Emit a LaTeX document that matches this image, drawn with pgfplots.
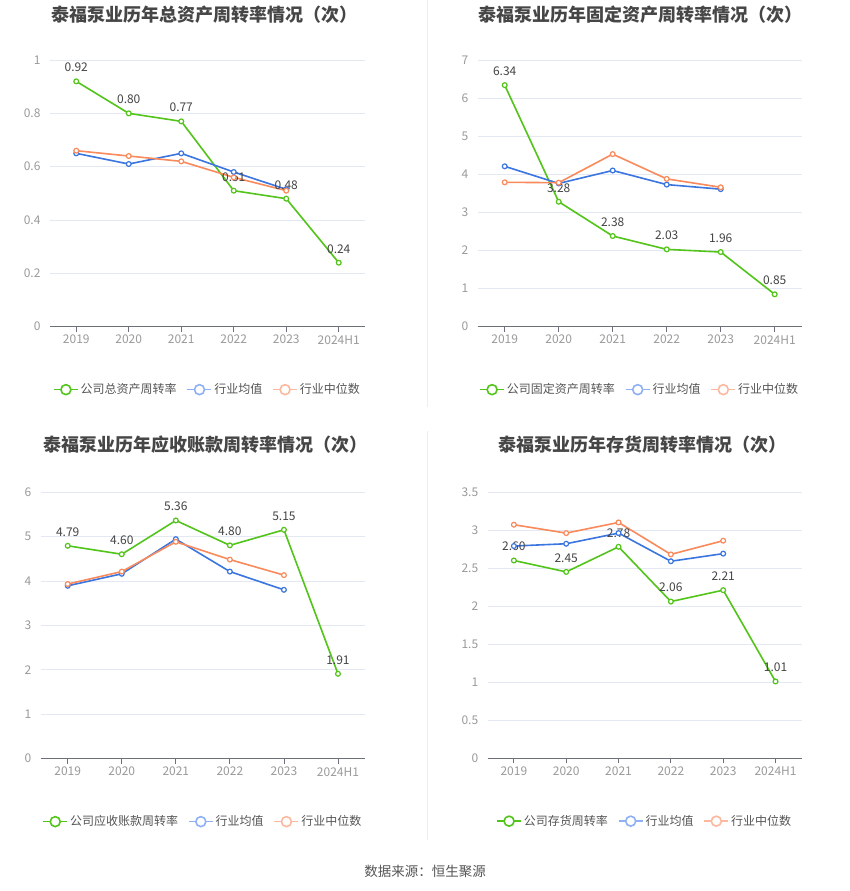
\documentclass[border=0pt]{standalone}
\usepackage{fontspec}
\setmainfont{Noto Sans CJK SC}
\usepackage{pgfplots}
\pgfplotsset{compat=1.18}
\definecolor{cgreen}{HTML}{52C41A}
\definecolor{cblue}{HTML}{3A75E0}
\definecolor{corange}{HTML}{F98A5B}
\definecolor{lblue}{HTML}{8FB0F2}
\definecolor{lorange}{HTML}{FBB9A0}
\definecolor{gridc}{HTML}{E3E8F3}
\definecolor{axisc}{HTML}{6E7079}
\definecolor{tickc}{HTML}{9A9A9A}
\definecolor{labc}{HTML}{444444}
\definecolor{legc}{HTML}{555555}
\definecolor{titc}{HTML}{464646}
\definecolor{sepc}{HTML}{EEEEEE}
\pgfplotsset{
  mystyle/.style={
    scale only axis, xmin=-0.5, xmax=5.5, ymin=0,
    xtick={0,...,5}, xticklabels={2019,2020,2021,2022,2023,2024H1},
    axis x line*=bottom, axis y line*=left,
    y axis line style={draw=none},
    x axis line style={-, axisc, line width=1pt},
    xtick style={axisc, line width=0.8pt}, ytick style={draw=none},
    major tick length=5pt, tick align=outside,
    ymajorgrids, grid style={gridc, line width=0.8pt},
    ticklabel style={font=\fontsize{12}{14}\selectfont, text=tickc},
    yticklabel style={xshift=-1pt},
    /pgf/number format/assume math mode=true,
    legend columns=3,
    legend cell align=left,
    legend style={draw=none, fill=none, font=\fontsize{12}{14}\selectfont, text=legc,
      at={(0.5,-0.236)}, anchor=center,
      /tikz/every even column/.append style={column sep=8pt}},
  },
  comp/.style={cgreen, line width=1.6pt, mark=*, mark size=2.4pt,
    mark options={fill=white, line width=1.2pt},
    nodes near coords, point meta=explicit symbolic,
    every node near coord/.append style={font=\fontsize{12}{14}\selectfont, text=labc, anchor=south, yshift=5.5pt},
    legend image code/.code={
      \draw[cgreen, line width=1.6pt] (0pt,0pt) -- (24pt,0pt);
      \draw[cgreen, line width=1.6pt, fill=white] (12pt,0pt) circle (5pt);}},
  avg/.style={cblue, line width=1.6pt, mark=*, mark size=2.4pt,
    mark options={fill=white, line width=1.2pt},
    legend image code/.code={
      \draw[lblue, line width=1.6pt] (0pt,0pt) -- (24pt,0pt);
      \draw[lblue, line width=1.6pt, fill=white] (12pt,0pt) circle (5pt);}},
  med/.style={corange, line width=1.6pt, mark=*, mark size=2.4pt,
    mark options={fill=white, line width=1.2pt},
    legend image code/.code={
      \draw[lorange, line width=1.6pt] (0pt,0pt) -- (24pt,0pt);
      \draw[lorange, line width=1.6pt, fill=white] (12pt,0pt) circle (5pt);}},
}
\begin{document}
\begin{tikzpicture}
\useasboundingbox[fill=white] (0pt,0pt) rectangle (850pt,-891pt);
\draw[sepc, line width=0.8pt] (427.5pt,0pt) -- (427.5pt,-407pt);
\draw[sepc, line width=0.8pt] (427.5pt,-431pt) -- (427.5pt,-840pt);

% Top-left
\node[font=\fontsize{18}{21}\selectfont\bfseries, text=titc] at (204pt,-15pt) {泰福泵业历年总资产周转率情况（次）};
\begin{axis}[mystyle, at={(50pt,-326.7pt)}, anchor=south west, width=315pt, height=266.7pt,
  ymax=1, ytick={0,0.2,0.4,0.6,0.8,1}]
\addplot[comp] coordinates {(0,0.92)[0.92] (1,0.80)[0.80] (2,0.77)[0.77] (3,0.51)[0.51] (4,0.48)[0.48] (5,0.24)[0.24]};
\addplot[avg] coordinates {(0,0.65) (1,0.61) (2,0.65) (3,0.58) (4,0.515)};
\addplot[med] coordinates {(0,0.66) (1,0.64) (2,0.62) (3,0.56) (4,0.51)};
\legend{公司总资产周转率,行业均值,行业中位数}
\end{axis}

% Top-right
\node[font=\fontsize{18}{21}\selectfont\bfseries, text=titc] at (640pt,-15pt) {泰福泵业历年固定资产周转率情况（次）};
\begin{axis}[mystyle, at={(477.7pt,-326.7pt)}, anchor=south west, width=324pt, height=266.7pt,
  ymax=7, ytick={0,1,...,7}]
\addplot[comp] coordinates {(0,6.34)[6.34] (1,3.28)[3.28] (2,2.38)[2.38] (3,2.03)[2.03] (4,1.96)[1.96] (5,0.85)[0.85]};
\addplot[avg] coordinates {(0,4.21) (1,3.76) (2,4.10) (3,3.73) (4,3.61)};
\addplot[med] coordinates {(0,3.79) (1,3.78) (2,4.53) (3,3.88) (4,3.66)};
\legend{公司固定资产周转率,行业均值,行业中位数}
\end{axis}

% Bottom-left
\node[font=\fontsize{18}{21}\selectfont\bfseries, text=titc] at (205pt,-445pt) {泰福泵业历年应收账款周转率情况（次）};
\begin{axis}[mystyle, at={(40.7pt,-758.7pt)}, anchor=south west, width=324.3pt, height=266.7pt,
  ymax=6, ytick={0,1,...,6}]
\addplot[comp] coordinates {(0,4.79)[4.79] (1,4.60)[4.60] (2,5.36)[5.36] (3,4.80)[4.80] (4,5.15)[5.15] (5,1.91)[1.91]};
\addplot[avg] coordinates {(0,3.89) (1,4.16) (2,4.94) (3,4.21) (4,3.80)};
\addplot[med] coordinates {(0,3.93) (1,4.21) (2,4.88) (3,4.48) (4,4.13)};
\legend{公司应收账款周转率,行业均值,行业中位数}
\end{axis}

% Bottom-right
\node[font=\fontsize{18}{21}\selectfont\bfseries, text=titc] at (642pt,-445pt) {泰福泵业历年存货周转率情况（次）};
\begin{axis}[mystyle, at={(487.7pt,-758.3pt)}, anchor=south west, width=314pt, height=266.3pt,
  ymax=3.5, ytick={0,0.5,...,3.5}]
\addplot[comp] coordinates {(0,2.60)[2.60] (1,2.45)[2.45] (2,2.78)[2.78] (3,2.06)[2.06] (4,2.21)[2.21] (5,1.01)[1.01]};
\addplot[avg] coordinates {(0,2.79) (1,2.82) (2,2.96) (3,2.59) (4,2.69)};
\addplot[med] coordinates {(0,3.07) (1,2.96) (2,3.10) (3,2.68) (4,2.86)};
\legend{公司存货周转率,行业均值,行业中位数}
\end{axis}

\node[font=\fontsize{13.5}{16}\selectfont, text=legc] at (425pt,-871pt) {数据来源：恒生聚源};
\end{tikzpicture}
\end{document}
